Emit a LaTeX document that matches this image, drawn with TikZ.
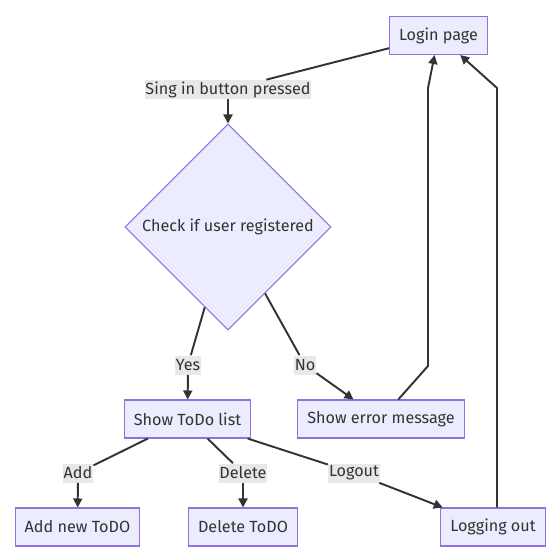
\documentclass[tikz,border=0pt]{standalone}
\usepackage{fontspec}
\setmainfont{Fira Sans}
\usetikzlibrary{shapes.geometric,arrows.meta}

\definecolor{boxfill}{HTML}{ECECFF}
\definecolor{boxline}{HTML}{9370DB}
\definecolor{edgeline}{HTML}{333333}
\definecolor{labelfill}{HTML}{E8E8E8}

\tikzset{
  box/.style={draw=boxline, fill=boxfill, line width=0.6pt, minimum height=0.76cm, inner xsep=0.19cm, text=edgeline},
  decision/.style={diamond, draw=boxline, fill=boxfill, line width=0.6pt, minimum width=4.12cm, minimum height=4.12cm, inner sep=0pt, text=edgeline},
  edgelabel/.style={fill=labelfill, inner xsep=0.5pt, inner ysep=0pt, minimum height=0.38cm, text=edgeline},
  flow/.style={draw=edgeline, line width=1.1pt},
  arrow/.style={flow, -{Triangle[length=0.18cm,width=0.18cm]}}
}

\begin{document}
\begin{tikzpicture}[x=0.02cm, y=-0.02cm, font=\fontsize{9.2}{11}\selectfont]
\useasboundingbox (0,0) rectangle (556,555);

% Nodes
\node[box] (login) at (438.5,35.5) {Login page};
\node[decision] (check) at (228,227) {Check if user registered};
\node[box] (todo) at (187.5,419) {Show ToDo list};
\node[box] (error) at (381,419) {Show error message};
\node[box] (addnew) at (77.5,527) {Add new ToDO};
\node[box] (delete) at (243,527) {Delete ToDO};
\node[box] (loggingout) at (493,527) {Logging out};

% Edge labels
\node[edgelabel] (signin) at (228,89.5) {Sing in button pressed};
\node[edgelabel] (yes) at (188,365) {Yes};
\node[edgelabel] (no) at (305,365) {No};
\node[edgelabel] (add) at (78,473) {Add};
\node[edgelabel] (del) at (243,473) {Delete};
\node[edgelabel] (logout) at (354,473) {Logout};

% Edges
\draw[flow] (login) -- (signin);
\draw[arrow] (signin) -- (check);
\draw[flow] (check) -- (yes);
\draw[arrow] (yes) -- (todo);
\draw[flow] (check) -- (no);
\draw[arrow] (no) -- (error);
\draw[arrow] (error) -- (428,366) -- (428,88) -- (login);
\draw[arrow] ([xshift=0.08cm]loggingout.north) -- (497,88) -- (login);
\draw[flow] (todo) -- (add);
\draw[arrow] (add) -- (addnew);
\draw[flow] (todo) -- (del);
\draw[arrow] (del) -- (delete);
\draw[flow] (todo) -- (logout);
\draw[arrow] (logout) -- (loggingout);

\end{tikzpicture}
\end{document}
